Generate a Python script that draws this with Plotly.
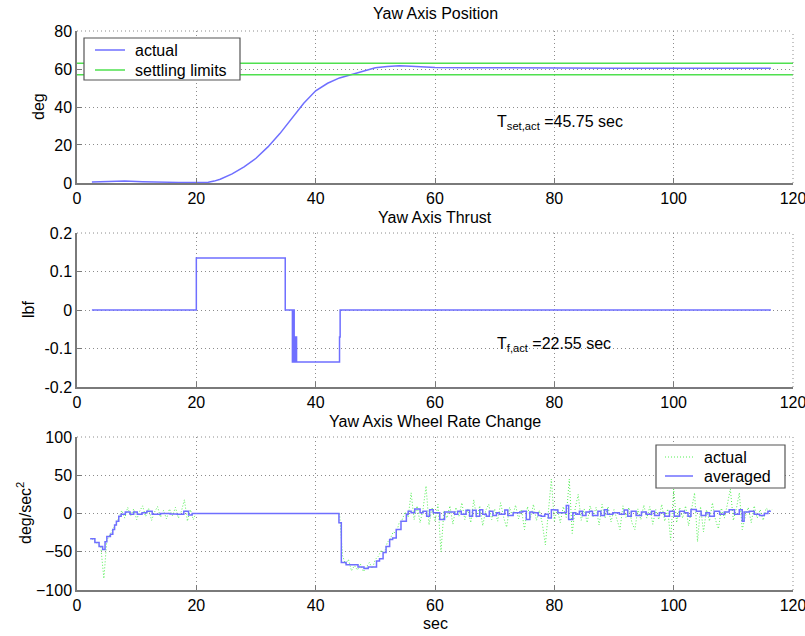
import plotly.graph_objects as go

# ---------------- data ----------------
pos_t = [2.5, 5, 8, 11, 14, 17, 20, 22, 23, 24, 26, 28, 30, 32, 34, 36, 38, 40, 42, 44, 46, 48,
         50, 52, 54, 56, 58, 60, 65, 70, 72, 75, 80, 85, 90, 100, 110, 116.3]
pos_v = [0.5, 0.8, 1.0, 0.7, 0.4, 0.3, 0.2, 0.4, 1.0, 2.0, 4.8, 8.5, 13, 19, 26, 34, 42, 48.5, 52.5,
         55.3, 57.2, 59.0, 60.6, 61.3, 61.7, 61.4, 61.0, 60.8, 60.7, 60.6, 60.4, 60.5, 60.5, 60.4,
         60.4, 60.4, 60.4, 60.4]
settle_t = [0, 120]
settle_hi = 63
settle_lo = 57

thrust_t = [2.5, 20.0, 34.9, 36.1, 36.3, 36.4, 36.6, 36.8, 44.0, 44.1, 116.3]
thrust_v = [0, 0.135, 0, -0.135, 0, -0.135, -0.07, -0.135, -0.07, 0, 0]

act1_start = 2.5
act1_v = [-33, -36, -40, -44, -85, -35, -28, -22, -14, -6, 4, -6, 8, -3, 6, -8, 3, 10, -4, 7,
          -9, 2, 9, -5, 4, -7, 6, -3, 8, -6, 3, 18, -10, 5, -8, 2]
act2_start = 44.0
act2_v = [0, -55, -66, -60, -75, -68, -74, -66, -76, -70, -64, -72, -60, -56, -48, -52, -38, -33,
          -24, -26, -12, -8, 2, -5, 27, -8, 10, -12, 6, 36, -15, 8, -10, 12, -50, 4, -6, 10, -14,
          8, -4, 14, -8, 6, -12, 18, -6, 10, -16, 4, 12, -8, 6, -10, 14, -5, -18, 8, -4, 11, -7,
          5, -21, 9, -6, 12, -9, 4, -14, -41, 8, 45, -10, 6, -12, 9, -5, 45, -26, 7, 25, -9, 6,
          -12, 10, -4, 8, -15, 12, -6, 9, -11, 5, -8, -21, 10, -5, 8, -12, -21, 6, -8, 11, -6, 9,
          -14, 5, -8, 12, -10, 6, -35, 32, -12, 8, -6, 10, -16, 6, 27, -37, 9, -24, 5, -10, 14,
          -8, -20, 7, -6, 12, 32, -9, 6, 27, -21, -4, 8, -12, 10, -6, 5, -9, 7, 4, 5]
act_step = 0.5

avg_t = [2.2, 3.0, 3.7, 4.3, 4.7, 5.0, 5.6, 6.0, 6.3, 6.6, 7.0, 7.4, 8.1, 8.9, 9.5, 10.1, 10.9,
         11.7, 12.6, 14.0, 15.6, 16.8, 17.9, 18.7, 19.3, 43.9, 44.3, 45.1, 47.1, 48.1, 48.8, 50.2,
         50.7, 51.3, 51.8, 52.4, 52.9, 53.5, 54.3, 55.2, 55.5, 56.0, 56.6, 57.5, 58.0, 58.6, 59.1,
         59.7, 60.8, 61.6, 63.3, 63.8, 64.4, 65.2, 65.8, 66.3, 66.9, 67.5, 68.0, 68.6, 69.1, 69.7,
         70.3, 70.8, 71.7, 72.2, 73.1, 74.2, 74.7, 75.3, 75.9, 76.4, 77.3, 77.8, 78.4, 79.0, 79.5,
         80.1, 80.6, 82.0, 82.4, 83.1, 83.6, 84.2, 84.7, 85.3, 85.9, 86.4, 87.3, 87.8, 88.4, 88.9,
         89.8, 90.9, 91.7, 92.3, 92.9, 93.7, 94.6, 95.4, 96.3, 96.8, 97.6, 98.5, 99.3, 100.1, 101.0,
         101.8, 102.4, 102.9, 103.8, 104.6, 105.4, 106.0, 106.8, 107.7, 108.5, 109.3, 110.2, 111.0,
         111.5, 111.8, 112.7, 113.5, 114.4, 115.2, 115.8, 116.3]
avg_v = [-33, -38, -43, -47, -37, -30, -27, -21, -15, -10, -3.5, -1, 2, -1, 2, -1, 1,
         3, -1, 0, -0.5, -1, 3, -2, 0, -12, -64, -67, -70, -72, -70, -62,
         -59, -51, -43, -34, -32, -21, -10, -1, 3, 1, 6, 1, 3, -3.5, 5,
         1, -8, 2, -1, 3, -1, 4.4, -3.5, 4.4, -3.5, 5, -1, -3.5, 3, -2.5,
         1, -1, 4.5, -2.5, 1, 2, 3, -8, 2, 1, -2.5, -3.5, -1, -6, 5,
         4.5, 1, 10.6, -8, 1, -1, 3, -2.5, 2, 3, -2.5, 3, -2.5, 5, -1,
         1, -1, 4.5, -3.5, 3, -2.5, 2, -1, 3, -2.5, 1, -3.5, 3, -3.5, 3,
         1, -3.5, 5.3, 3, -2.5, 1, -3.5, 3, -1, 2, 5, -1, 5,
         -10, 2, 3, -1, -2.5, 0, 3, 3]

x_ticks = [0, 20, 40, 60, 80, 100, 120]
legend1_labels = ["actual", "settling limits"]
legend2_labels = ["actual", "averaged"]

# ---------------- figure ----------------
BLUE = "#6f6fff"
GREEN = "#4fe04f"
LGREEN = "#55f055"
FONT = "Liberation Sans, Arial, sans-serif"
W, H = 805, 636
ML, MR, MT, MB = 77, 12, 31, 46
PW, PH = W - ML - MR, H - MT - MB


def px(x):
    return (x - ML) / PW


def py(y):
    return (H - MB - y) / PH


act1_t = [act1_start + act_step * i for i in range(len(act1_v))]
act2_t = [act2_start + act_step * i for i in range(len(act2_v))]

fig = go.Figure()
fig.add_trace(go.Scatter(x=pos_t, y=pos_v, mode="lines", name=legend1_labels[0],
                         line=dict(color=BLUE, width=1.5), xaxis="x", yaxis="y"))
fig.add_trace(go.Scatter(x=settle_t + [None] + settle_t,
                         y=[settle_hi] * 2 + [None] + [settle_lo] * 2,
                         mode="lines", name=legend1_labels[1], connectgaps=False,
                         line=dict(color=GREEN, width=1.5), xaxis="x", yaxis="y"))
fig.add_trace(go.Scatter(x=thrust_t, y=thrust_v, mode="lines", line_shape="hv",
                         line=dict(color=BLUE, width=1.5), xaxis="x2", yaxis="y2"))
fig.add_trace(go.Scatter(x=act1_t + [None] + act2_t, y=act1_v + [None] + act2_v, mode="lines",
                         name=legend2_labels[0], line=dict(color=LGREEN, width=1, dash="1px,2px"),
                         xaxis="x3", yaxis="y3"))
fig.add_trace(go.Scatter(x=avg_t, y=avg_v, mode="lines", line_shape="hv", name=legend2_labels[1],
                         line=dict(color=BLUE, width=1.5), xaxis="x3", yaxis="y3"))

axis_common = dict(showline=True, linecolor="#7a7a7a", linewidth=1.5, ticks="inside", ticklen=5,
                   tickcolor="#7a7a7a", showgrid=True, gridcolor="#8c8c8c",
                   griddash="1px,3px", gridwidth=1, zeroline=False,
                   tickfont=dict(size=16, color="black"), mirror=False,
                   ticklabeloverflow="allow", automargin=False)

doms = [[0.7281, 1.0], [0.3631, 0.6386], [0.0, 0.2737]]
lay = dict(
    width=W, height=H,
    margin=dict(l=ML, r=MR, t=MT, b=MB, autoexpand=False),
    paper_bgcolor="white", plot_bgcolor="white",
    font=dict(family=FONT, size=16, color="black"),
    showlegend=False,
)
yranges = [[0, 80], [-0.2, 0.2], [-100, 100]]
ydticks = [20, 0.1, 50]
for i in range(3):
    sx = "" if i == 0 else str(i + 1)
    lay["xaxis" + sx] = dict(axis_common, domain=[0, 1], range=[0, 120], tickvals=x_ticks,
                             anchor="y" + sx)
    lay["yaxis" + sx] = dict(axis_common, domain=doms[i], range=yranges[i], dtick=ydticks[i],
                             tick0=0, anchor="x" + sx)
lay["yaxis2"]["tickvals"] = [-0.2, -0.1, 0, 0.1, 0.2]
lay["yaxis2"]["ticktext"] = ["-0.2", "-0.1", "0", "0.1", "0.2"]
fig.update_layout(**lay)

shapes = []
# dotted box edges (top and right) for each panel
for i in range(3):
    sx = "" if i == 0 else str(i + 1)
    for (x0, y0, x1, y1) in [(0, 1, 1, 1), (1, 0, 1, 1)]:
        shapes.append(dict(type="line", xref="x%s domain" % sx, yref="y%s domain" % sx,
                           x0=x0, y0=y0, x1=x1, y1=y1,
                           line=dict(color="#8c8c8c", width=1, dash="1px,3px")))

ann = []


def add_legend(box, rows, labels, styles):
    x0, y0, x1, y1 = box
    shapes.append(dict(type="rect", xref="paper", yref="paper", x0=px(x0), x1=px(x1),
                       y0=py(y1), y1=py(y0), fillcolor="white",
                       line=dict(color="#555555", width=1.2), layer="above"))
    for (ly, lx0, lx1, tx), lab, st in zip(rows, labels, styles):
        shapes.append(dict(type="line", xref="paper", yref="paper", x0=px(lx0), x1=px(lx1),
                           y0=py(ly), y1=py(ly), line=st, layer="above"))
        ann.append(dict(text=lab, x=px(tx), y=py(ly), xref="paper", yref="paper",
                        showarrow=False, xanchor="left", yanchor="middle",
                        font=dict(size=16)))


add_legend((84, 38, 240, 80), [(50, 95, 125, 133), (70, 95, 125, 133)], legend1_labels,
           [dict(color=BLUE, width=1.5), dict(color=GREEN, width=1.5)])
add_legend((656, 445, 785, 488), [(457, 665, 693, 702), (476, 665, 693, 702)], legend2_labels,
           [dict(color=LGREEN, width=1, dash="1px,2px"), dict(color=BLUE, width=1.5)])

# subplot titles
for txt, ypix in [("Yaw Axis Position", 13), ("Yaw Axis Thrust", 218),
                  ("Yaw Axis Wheel Rate Change", 421)]:
    ann.append(dict(text=txt, x=0.5, xref="paper", y=py(ypix), yref="paper",
                    showarrow=False, xanchor="center", yanchor="middle",
                    font=dict(size=16)))
# y titles
for txt, xpix, ymid in [("deg", 38, 107), ("lbf", 28, 310), ("deg/sec<sup>2</sup>", 24, 513)]:
    ann.append(dict(text=txt, x=px(xpix), xref="paper", y=py(ymid),
                    yref="paper", showarrow=False, textangle=-90, xanchor="center",
                    yanchor="middle", font=dict(size=16)))
ann.append(dict(text="sec", x=0.5, xref="paper", y=py(623), yref="paper",
                showarrow=False, xanchor="center", yanchor="middle", font=dict(size=16)))
ann.append(dict(text="T<sub>set,act</sub> =45.75 sec", x=70, y=32, xref="x", yref="y",
                showarrow=False, xanchor="left", yanchor="middle", font=dict(size=16)))
ann.append(dict(text="T<sub>f,act</sub> =22.55 sec", x=70, y=-0.09, xref="x2", yref="y2",
                showarrow=False, xanchor="left", yanchor="middle", font=dict(size=16)))
fig.update_layout(annotations=ann, shapes=shapes)

fig.write_html("out.html")
